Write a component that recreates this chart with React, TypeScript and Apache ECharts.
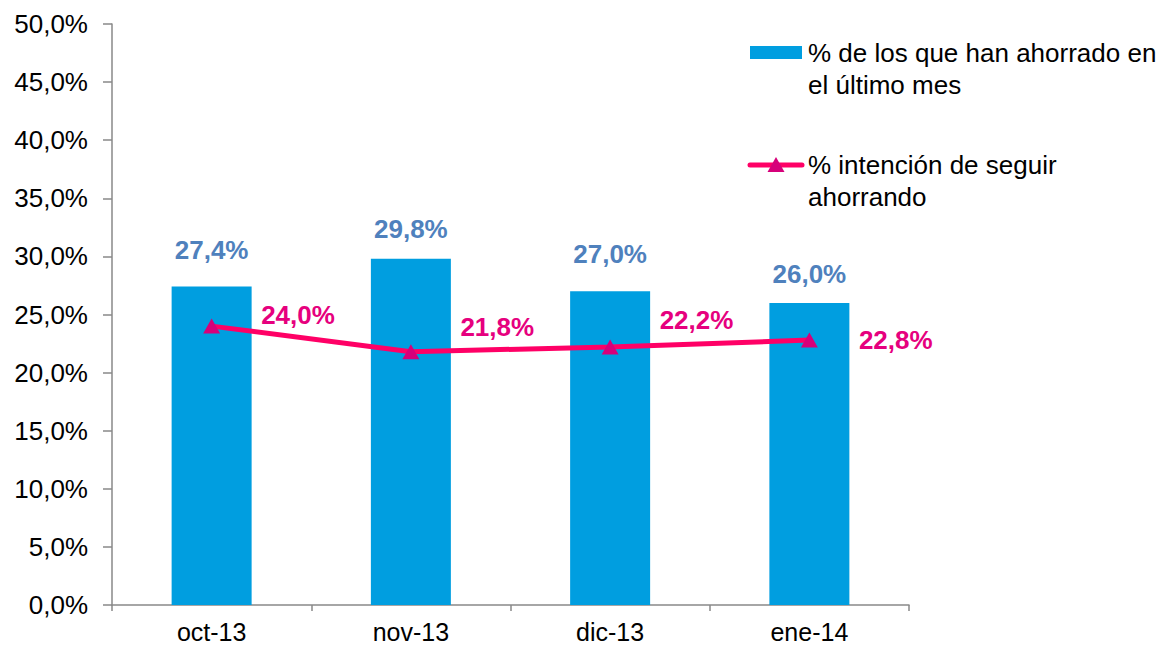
import React, { useEffect, useRef } from "react";
import * as echarts from "echarts";

const categories = ["oct-13", "nov-13", "dic-13", "ene-14"];
const ahorrado = [27.4, 29.8, 27.0, 26.0];
const intencion = [24.0, 21.8, 22.2, 22.8];
const yTicks = [0, 5, 10, 15, 20, 25, 30, 35, 40, 45, 50];
const legendNames = ["% de los que han ahorrado en\nel último mes", "% intención de seguir\nahorrando"];

const barLabelDist = [24, 17, 24, 16];
const lineLabelDy = [-11, -25, -27, 0];

const fmt = (v: number) => v.toFixed(1).replace(".", ",") + "%";

export default function App() {
  const ref = useRef<HTMLDivElement>(null);
  useEffect(() => {
    if (!ref.current) return;
    const chart = echarts.init(ref.current, null, { renderer: "svg" });
    const font = "Liberation Sans, Arial, sans-serif";
    const fs = 26;
    chart.setOption({
      animation: false,
      grid: { left: 112, right: 259, top: 24, bottom: 41, containLabel: false },
      xAxis: {
        type: "category",
        data: categories,
        axisLine: { lineStyle: { color: "#898989", width: 1.5 } },
        axisTick: { show: true, length: 6, lineStyle: { color: "#898989", width: 1.5 } },
        axisLabel: { color: "#000", fontSize: 25, fontFamily: font, margin: 14 },
      },
      yAxis: {
        type: "value",
        min: yTicks[0],
        max: yTicks[yTicks.length - 1],
        interval: 5,
        splitLine: { show: false },
        axisLine: { show: true, lineStyle: { color: "#898989", width: 1.5 } },
        axisTick: { show: true, length: 9, lineStyle: { color: "#898989", width: 1.5 } },
        axisLabel: {
          color: "#000",
          fontSize: fs,
          fontFamily: font,
          margin: 24,
          formatter: (v: number) => fmt(v),
        },
      },
      series: [
        {
          name: legendNames[0],
          type: "bar",
          barWidth: 80,
          data: ahorrado.map((v, i) => ({
            value: v,
            label: { distance: barLabelDist[i] },
          })),
          itemStyle: { color: "#009EE0" },
          label: {
            show: true,
            position: "top",
            color: "#4F81BD",
            fontSize: fs,
            fontWeight: "bold",
            fontFamily: font,
            formatter: (p: any) => fmt(p.value),
          },
          z: 1,
        },
        {
          name: legendNames[1],
          type: "line",
          data: intencion.map((v, i) => ({
            value: v,
            label: { offset: [0, lineLabelDy[i]] },
          })),
          lineStyle: { color: "#FF0066", width: 5 },
          itemStyle: { color: "#D6007A" },
          symbol: "triangle",
          symbolSize: [17, 15],
          label: {
            show: true,
            position: "right",
            distance: 41,
            color: "#E6007E",
            fontSize: fs,
            fontWeight: "bold",
            fontFamily: font,
            formatter: (p: any) => fmt(p.value),
          },
          z: 3,
        },
      ],
      graphic: [
        { type: "rect", shape: { x: 750, y: 46, width: 52, height: 13 }, style: { fill: "#009EE0" } },
        {
          type: "text",
          x: 808,
          y: 37,
          style: { text: legendNames[0], fontSize: fs, fontFamily: font, fill: "#000", lineHeight: 32 },
        },
        {
          type: "line",
          shape: { x1: 750, y1: 165, x2: 802, y2: 165 },
          style: { stroke: "#FF0066", lineWidth: 5, lineCap: "round" },
        },
        {
          type: "polygon",
          shape: { points: [[776, 157], [767.5, 172], [784.5, 172]] },
          style: { fill: "#D6007A" },
        },
        {
          type: "text",
          x: 808,
          y: 149,
          style: { text: legendNames[1], fontSize: fs, fontFamily: font, fill: "#000", lineHeight: 32 },
        },
      ],
    });
    return () => chart.dispose();
  }, []);
  return <div ref={ref} style={{ width: 1168, height: 646, position: "absolute", left: 0, top: 0 }} />;
}
